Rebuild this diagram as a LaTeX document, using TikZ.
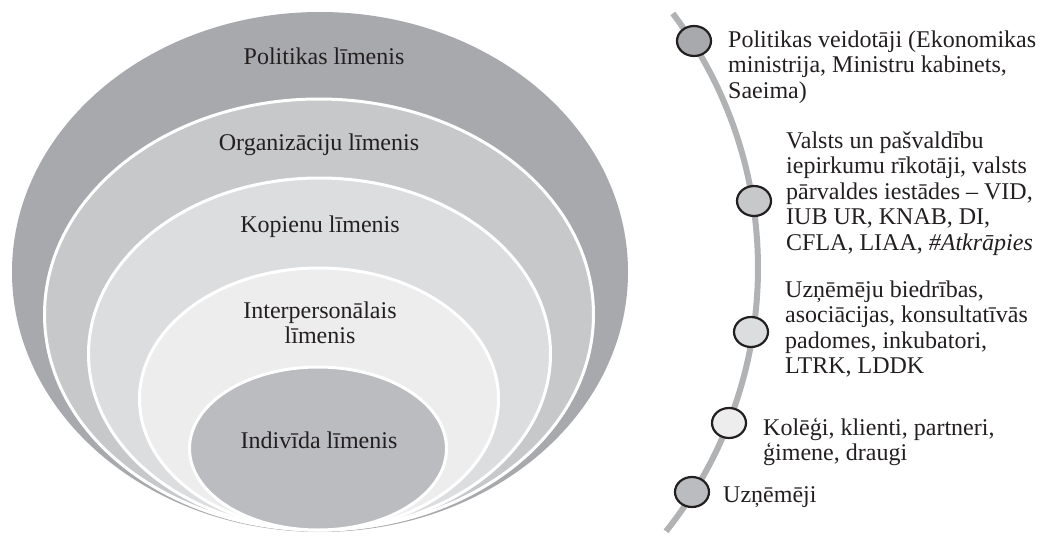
\documentclass[tikz,border=0pt]{standalone}
\usepackage{fontspec}
\setmainfont{Liberation Serif}
\usetikzlibrary{shapes.geometric}
\definecolor{ink}{HTML}{231F20}
\definecolor{lvA}{HTML}{A8A9AC}
\definecolor{lvB}{HTML}{C7C8CA}
\definecolor{lvC}{HTML}{DCDDDF}
\definecolor{lvD}{HTML}{EDEDED}
\definecolor{lvE}{HTML}{BBBCBF}
\definecolor{arcgray}{HTML}{B1B2B4}
\begin{document}
\begin{tikzpicture}[x=1pt,y=-1pt,
  lvl/.style={ellipse, inner sep=0pt, draw=white, line width=3pt},
  lbl/.style={font=\fontsize{24}{25.5}\selectfont, text=ink, inner sep=0pt, align=center, anchor=base},
  dot/.style={ellipse, inner sep=0pt, minimum width=34pt, minimum height=30pt, draw=ink, line width=2.2pt},
  txt/.style={font=\fontsize{24}{25.5}\selectfont, text=ink, inner sep=0pt, align=left, anchor=base west}]
\useasboundingbox (0,0) rectangle (1042,538);
% nested levels
\node[lvl, draw=none, fill=lvA, minimum width=616pt, minimum height=520pt] (e1) at (320,272) {};
\node[lvl, fill=lvB, minimum width=549pt, minimum height=431pt] (e2) at (319,314.5) {};
\node[lvl, fill=lvC, minimum width=462pt, minimum height=352pt] (e3) at (319.5,354) {};
\node[lvl, fill=lvD, minimum width=359pt, minimum height=262pt] (e4) at (319,399) {};
\node[lvl, fill=lvE, minimum width=257pt, minimum height=163pt] (e5) at (318,448.5) {};
% labels (anchor = baseline of the last line)
\node[lbl] (t1) at (324,64) {Politikas līmenis};
\node[lbl] (t2) at (319,150) {Organizāciju līmenis};
\node[lbl] (t3) at (320,232) {Kopienu līmenis};
\node[lbl] (t4) at (320,343.5) {Interpersonālais\\līmenis};
\node[lbl] (t5) at (319,448) {Indivīda līmenis};
% arc
\draw[line width=6pt, arcgray] plot[domain=-37:38.5, samples=90] ({335+423*cos(\x)},{268+423*sin(\x)});
% dots
\node[dot, fill=lvA] (d1) at (694,41) {};
\node[dot, fill=lvB] (d2) at (754,201) {};
\node[dot, fill=lvC] (d3) at (751,332) {};
\node[dot, fill=lvD] (d4) at (729,423) {};
\node[dot, fill=lvE] (d5) at (692,492) {};
% texts (anchor = baseline of the last line)
\node[txt] (r1) at (728,98) {Politikas veidotāji (Ekonomikas\\ministrija, Ministru kabinets,\\Saeima)};
\node[txt] (r2) at (786,250) {Valsts un pašvaldību\\iepirkumu rīkotāji, valsts\\pārvaldes iestādes – VID,\\IUB UR, KNAB, DI,\\CFLA, LIAA, \textit{\#Atkrāpies}};
\node[txt] (r3) at (785,373.5) {Uzņēmēju biedrības,\\asociācijas, konsultatīvās\\padomes, inkubatori,\\LTRK, LDDK};
\node[txt] (r4) at (763,460.5) {Kolēģi, klienti, partneri,\\ģimene, draugi};
\node[txt] (r5) at (723,502) {Uzņēmēji};
\end{tikzpicture}
\end{document}
